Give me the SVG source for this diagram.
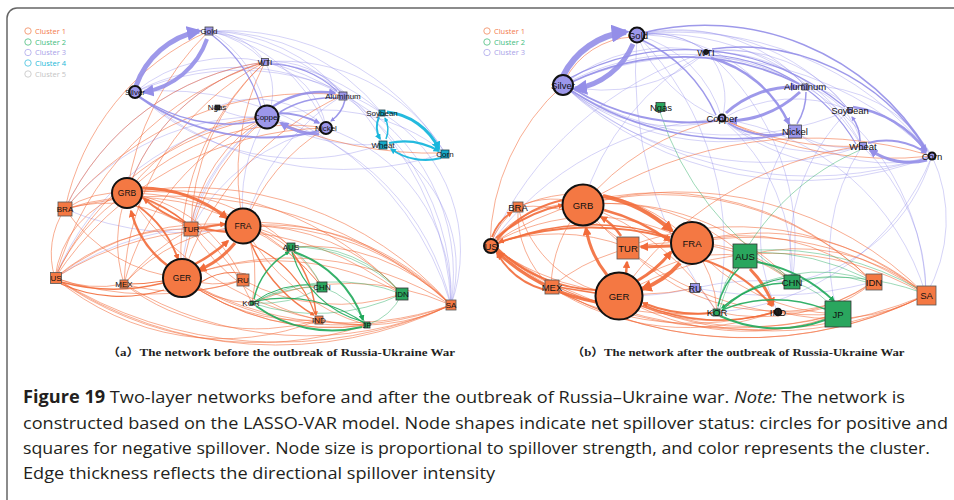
<svg xmlns="http://www.w3.org/2000/svg" width="954" height="500" viewBox="0 0 954 500">
<style>
.e path{fill:none}
.o path{stroke:#f26b3a;stroke-opacity:.62;stroke-width:.9}
.p path{stroke:#8a84e8;stroke-opacity:.45;stroke-width:.8}
.g path{stroke:#1fa85a;stroke-opacity:.55;stroke-width:.8}
.ok path{stroke:#f26b3a;stroke-opacity:.9}
.pk path{stroke:#948ee8;stroke-opacity:.9}
.gk path{stroke:#1fa85a;stroke-opacity:.9}
.tk path{stroke:#18b6dc;stroke-opacity:.95}
.lbl{font-family:"Liberation Sans",Arial,sans-serif;fill:#111;text-anchor:middle}
.a{font-size:8px}
.a2{font-size:8.5px}
.b{font-size:9.5px}
.nO{fill:#f47843;stroke:#555;stroke-width:.8}
.nG{fill:#2aa65e;stroke:#333;stroke-width:.8}
.nP{fill:#9c97ea;stroke:#444;stroke-width:.8}
.nT{fill:#17a9c8;stroke:#1b3b44;stroke-width:.8}
.cO{fill:#f47843;stroke:#111;stroke-width:2}
.cP{fill:#9c97ea;stroke:#111;stroke-width:2}
.leg{font-family:"Open Sans","Liberation Sans",sans-serif;font-size:7.5px}
.sub{font-family:"Liberation Serif","Noto Sans CJK SC",serif;font-size:11px;font-weight:bold;fill:#222}
.cap{font-family:"Open Sans","Liberation Sans",sans-serif;font-size:17px;fill:#231f20}
</style>
<defs>
<marker id="mO" viewBox="0 0 10 10" refX="8" refY="5" markerWidth="3" markerHeight="3" orient="auto" markerUnits="strokeWidth"><path d="M0,0 L10,5 L0,10 z" fill="#f26b3a"/></marker>
<marker id="mP" viewBox="0 0 10 10" refX="8" refY="5" markerWidth="3" markerHeight="3" orient="auto" markerUnits="strokeWidth"><path d="M0,0 L10,5 L0,10 z" fill="#948ee8"/></marker>
<marker id="mG" viewBox="0 0 10 10" refX="8" refY="5" markerWidth="3" markerHeight="3" orient="auto" markerUnits="strokeWidth"><path d="M0,0 L10,5 L0,10 z" fill="#1fa85a"/></marker>
<marker id="mT" viewBox="0 0 10 10" refX="8" refY="5" markerWidth="3" markerHeight="3" orient="auto" markerUnits="strokeWidth"><path d="M0,0 L10,5 L0,10 z" fill="#18b6dc"/></marker>
</defs>
<rect width="954" height="500" fill="#fff"/>
<path d="M7 500 L7 18 A10 10 0 0 1 17 8 L954 8" fill="none" stroke="#666" stroke-width="1.5"/>

<g id="legend-a" class="leg">
<circle cx="28" cy="31" r="3.2" fill="none" stroke="#f5a07c"/><text x="35" y="33.5" fill="#f37a4d">Cluster 1</text>
<circle cx="28" cy="42" r="3.2" fill="none" stroke="#6fcb98"/><text x="35" y="44.5" fill="#3ebd7e">Cluster 2</text>
<circle cx="28" cy="52.5" r="3.2" fill="none" stroke="#bdb9f0"/><text x="35" y="55" fill="#a8a2e8">Cluster 3</text>
<circle cx="28" cy="63" r="3.2" fill="none" stroke="#66cde6"/><text x="35" y="65.5" fill="#22b8d8">Cluster 4</text>
<circle cx="28" cy="74" r="3.2" fill="none" stroke="#d0d0d0"/><text x="35" y="76.5" fill="#c4c4c4">Cluster 5</text>
</g>
<g id="legend-b" class="leg">
<circle cx="487" cy="31" r="3.2" fill="none" stroke="#f5a07c"/><text x="494" y="33.5" fill="#f37a4d">Cluster 1</text>
<circle cx="487" cy="42" r="3.2" fill="none" stroke="#6fcb98"/><text x="494" y="44.5" fill="#3ebd7e">Cluster 2</text>
<circle cx="487" cy="52.5" r="3.2" fill="none" stroke="#bdb9f0"/><text x="494" y="55" fill="#a8a2e8">Cluster 3</text>
</g>

<g id="connectors">
<g id="edges-a">
<g class="e p">
<path d="M209 31 A 70 70 0 0 1 265 62"/>
<path d="M265 62 A 110 110 0 0 0 209 31"/>
<path d="M209 31 A 120 120 0 0 1 267 117"/>
<path d="M209 31 A 180 180 0 0 1 343 95"/>
<path d="M209 31 A 160 160 0 0 1 326 128"/>
<path d="M209 31 A 220 220 0 0 1 382 113"/>
<path d="M209 31 A 260 260 0 0 1 445 153"/>
<path d="M209 31 A 290 290 0 0 1 451 305"/>
<path d="M135 92 A 150 150 0 0 1 265 62"/>
<path d="M135 92 A 220 220 0 0 1 343 95"/>
<path d="M135 92 A 260 260 0 0 1 382 113"/>
<path d="M135 92 A 300 300 0 0 1 451 305"/>
<path d="M135 92 A 320 320 0 0 0 445 153"/>
<path d="M135 92 A 240 240 0 0 0 383 144"/>
<path d="M265 62 A 90 90 0 0 1 343 95"/>
<path d="M265 62 A 80 80 0 0 1 326 128"/>
<path d="M265 62 A 60 60 0 0 1 267 117"/>
<path d="M265 62 A 140 140 0 0 1 383 144"/>
<path d="M265 62 A 190 190 0 0 1 445 153"/>
<path d="M265 62 A 240 240 0 0 1 451 305"/>
<path d="M265 62 A 200 200 0 0 1 382 113"/>
<path d="M343 95 A 200 200 0 0 1 451 305"/>
<path d="M326 128 A 180 180 0 0 1 451 305"/>
<path d="M267 117 A 250 250 0 0 1 451 305"/>
<path d="M382 113 A 160 160 0 0 1 451 305"/>
<path d="M383 144 A 140 140 0 0 1 451 305"/>
<path d="M267 117 A 200 200 0 0 1 445 153"/>
<path d="M267 117 A 190 190 0 0 0 383 144"/>
<path d="M267 117 A 160 160 0 0 0 244 226"/>
<path d="M267 117 A 200 200 0 0 0 191 229"/>
<path d="M267 117 A 200 200 0 0 0 182 278"/>
<path d="M265 62 A 200 200 0 0 0 127 193"/>
<path d="M265 62 A 260 260 0 0 0 65 209"/>
<path d="M65 209 A 250 250 0 0 1 267 117"/>
<path d="M65 209 A 300 300 0 0 0 244 226"/>
<path d="M55 278 A 260 260 0 0 1 267 117"/>
<path d="M55 278 A 300 300 0 0 1 244 226"/>
<path d="M326 128 A 200 200 0 0 0 191 229"/>
<path d="M343 95 A 230 230 0 0 0 244 226"/>
<path d="M216 107 A 100 100 0 0 1 326 128"/>
<path d="M216 107 A 80 80 0 0 0 267 117"/>
</g>
<g class="e o">
<path d="M55 278 A 320 320 0 0 1 265 62"/>
<path d="M65 209 A 260 260 0 0 1 265 62"/>
<path d="M127 193 A 200 200 0 0 1 265 62"/>
<path d="M127 193 A 180 180 0 0 1 267 117"/>
<path d="M124 284 A 260 260 0 0 1 265 62"/>
<path d="M55 278 A 280 280 0 0 1 267 117"/>
<path d="M65 209 A 320 320 0 0 1 343 95"/>
<path d="M182 278 A 260 260 0 0 1 265 62"/>
<path d="M244 226 A 240 240 0 0 1 265 62"/>
<path d="M191 229 A 150 150 0 0 1 267 117"/>
<path d="M55 278 A 330 330 0 0 1 326 128"/>
<path d="M127 193 A 230 230 0 0 1 326 128"/>
<path d="M267 117 A 400 400 0 0 0 445 153"/>
<path d="M127 193 A 280 280 0 0 1 209 31"/>
<path d="M65 209 A 250 250 0 0 1 209 31"/>
<path d="M182 278 A 240 240 0 0 1 267 117"/>
<path d="M244 226 A 200 200 0 0 1 326 128"/>
<path d="M124 284 A 250 250 0 0 1 267 117"/>
<path d="M182 278 A 300 300 0 0 1 343 95"/>
<path d="M191 229 A 230 230 0 0 1 265 62"/>
<path d="M127 193 A 100 100 0 0 0 55 278"/>
<path d="M65 209 A 160 160 0 0 0 182 278"/>
<path d="M65 209 A 220 220 0 0 1 244 226"/>
<path d="M65 209 A 150 150 0 0 1 191 229"/>
<path d="M55 278 A 200 200 0 0 1 191 229"/>
<path d="M55 278 A 250 250 0 0 1 244 226"/>
<path d="M55 278 A 300 300 0 0 0 243 280"/>
<path d="M55 278 A 260 260 0 0 0 319 320"/>
<path d="M55 278 A 400 400 0 0 0 451 305"/>
<path d="M124 284 A 140 140 0 0 1 127 193"/>
<path d="M124 284 A 180 180 0 0 1 244 226"/>
<path d="M124 284 A 200 200 0 0 0 243 280"/>
<path d="M124 284 A 220 220 0 0 0 319 320"/>
<path d="M124 284 A 350 350 0 0 0 451 305"/>
<path d="M127 193 A 350 350 0 0 1 451 305"/>
<path d="M244 226 A 250 250 0 0 1 451 305"/>
<path d="M182 278 A 300 300 0 0 1 451 305"/>
<path d="M182 278 A 320 320 0 0 0 451 305"/>
<path d="M191 229 A 280 280 0 0 1 451 305"/>
<path d="M65 209 A 420 420 0 0 1 451 305"/>
<path d="M127 193 A 320 320 0 0 1 402 294"/>
<path d="M244 226 A 200 200 0 0 1 402 294"/>
<path d="M182 278 A 260 260 0 0 1 402 294"/>
<path d="M451 305 A 250 250 0 0 0 252 303"/>
<path d="M451 305 A 420 420 0 0 1 55 278"/>
<path d="M451 305 A 300 300 0 0 1 182 278"/>
<path d="M451 305 A 280 280 0 0 0 244 226"/>
<path d="M367 325 A 250 250 0 0 1 182 278"/>
<path d="M367 325 A 350 350 0 0 1 55 278"/>
<path d="M319 320 A 200 200 0 0 1 182 278"/>
<path d="M252 303 A 120 120 0 0 1 182 278"/>
<path d="M243 280 A 100 100 0 0 1 182 278"/>
<path d="M243 280 A 150 150 0 0 0 127 193"/>
<path d="M252 303 A 200 200 0 0 0 127 193"/>
<path d="M291 247 A 200 200 0 0 0 127 193"/>
<path d="M322 287 A 250 250 0 0 0 127 193"/>
<path d="M322 287 A 120 120 0 0 0 244 226"/>
<path d="M291 247 A 80 80 0 0 0 244 226"/>
<path d="M244 226 A 120 120 0 0 1 252 303"/>
<path d="M244 226 A 200 200 0 0 0 367 325"/>
<path d="M127 193 A 300 300 0 0 0 367 325"/>
<path d="M182 278 A 250 250 0 0 0 367 325"/>
<path d="M244 226 A 200 200 0 0 1 322 287"/>
<path d="M191 229 A 200 200 0 0 0 319 320"/>
<path d="M402 294 A 300 300 0 0 0 55 278"/>
<path d="M451 305 A 200 200 0 0 0 291 247"/>
<path d="M451 305 A 200 200 0 0 1 319 320"/>
<path d="M402 294 A 200 200 0 0 1 243 280"/>
<path d="M55 278 A 120 120 0 0 0 124 284"/>
<path d="M65 209 A 80 80 0 0 0 55 278"/>
<path d="M55 278 A 200 200 0 0 1 127 193"/>
<path d="M65 209 A 100 100 0 0 1 127 193"/>
<path d="M124 284 A 200 200 0 0 1 191 229"/>
</g>
<g class="e g">
<path d="M252 303 A 150 150 0 0 1 322 287"/>
<path d="M252 303 A 180 180 0 0 1 402 294"/>
<path d="M291 247 A 130 130 0 0 1 402 294"/>
<path d="M402 294 A 60 60 0 0 1 367 325"/>
<path d="M322 287 A 80 80 0 0 1 367 325"/>
<path d="M402 294 A 200 200 0 0 1 252 303"/>
<path d="M291 247 A 120 120 0 0 1 322 287"/>
<path d="M322 287 A 120 120 0 0 1 252 303"/>
<path d="M402 294 A 150 150 0 0 0 291 247"/>
</g>
<g class="e pk">
<path d="M136 86 A 85 85 0 0 1 199 31" stroke-width="5" marker-end="url(#mP)"/>
<path d="M207 39 A 80 80 0 0 1 144 92" stroke-width="4" marker-end="url(#mP)"/>
<path d="M139 97 A 220 220 0 0 0 319 131" stroke-width="2"/>
<path d="M140 97 A 160 160 0 0 0 255 122" stroke-width="1.5"/>
<path d="M272 107 A 90 90 0 0 1 335 93" stroke-width="2.5" marker-end="url(#mP)"/>
<path d="M319 134 A 70 70 0 0 1 281 123" stroke-width="3" marker-end="url(#mP)"/>
<path d="M279 113 A 90 90 0 0 1 319 123" stroke-width="2" marker-end="url(#mP)"/>
<path d="M345 100 A 35 35 0 0 1 331 121" stroke-width="1.5" marker-end="url(#mP)"/>
<path d="M337 98 A 100 100 0 0 0 280 112" stroke-width="1.5"/>
<path d="M269 64 A 100 100 0 0 1 337 91" stroke-width="1.2"/>
<path d="M212 35 A 140 140 0 0 1 261 107" stroke-width="1.2"/>
</g>
<g class="e tk">
<path d="M387 112 A 65 65 0 0 1 439 149" stroke-width="3" marker-end="url(#mT)"/>
<path d="M389 143 A 70 70 0 0 1 439 151" stroke-width="2.2" marker-end="url(#mT)"/>
<path d="M441 158 A 60 60 0 0 1 391 149" stroke-width="2" marker-end="url(#mT)"/>
<path d="M379 117 A 25 25 0 0 0 380 139" stroke-width="2" marker-end="url(#mT)"/>
<path d="M386 139 A 25 25 0 0 0 385 118" stroke-width="1.5" marker-end="url(#mT)"/>
</g>
<g class="e ok">
<path d="M141 188 A 140 140 0 0 1 227 218" stroke-width="3" marker-end="url(#mO)"/>
<path d="M235 243 A 90 90 0 0 1 199 270" stroke-width="3" marker-end="url(#mO)"/>
<path d="M168 266 A 100 100 0 0 1 131 211" stroke-width="2.5" marker-end="url(#mO)"/>
<path d="M138 206 A 110 110 0 0 1 178 259" stroke-width="2" marker-end="url(#mO)"/>
<path d="M195 264 A 150 150 0 0 0 228 241" stroke-width="2.5" marker-end="url(#mO)"/>
<path d="M198 229 A 200 200 0 0 1 225 224" stroke-width="2" marker-end="url(#mO)"/>
<path d="M141 197 A 150 150 0 0 1 185 222" stroke-width="1.5"/>
<path d="M227 232 A 150 150 0 0 1 144 199" stroke-width="2" marker-end="url(#mO)"/>
<path d="M251 243 A 150 150 0 0 0 314 315" stroke-width="1.5" marker-end="url(#mO)"/>
<path d="M292 252 A 120 120 0 0 1 316 315" stroke-width="1.5" marker-end="url(#mO)"/>
<path d="M61 282 A 200 200 0 0 0 163 283" stroke-width="1.5"/>
<path d="M129 284 A 200 200 0 0 0 163 281" stroke-width="1.2"/>
<path d="M164 290 A 150 150 0 0 1 61 284" stroke-width="1.2"/>
<path d="M246 274 A 60 60 0 0 0 201 282" stroke-width="1.2"/>
<path d="M252 245 A 120 120 0 0 1 315 314" stroke-width="1.2"/>
</g>
<g class="e gk">
<path d="M256 306 A 130 130 0 0 0 362 327" stroke-width="2"/>
<path d="M294 252 A 110 110 0 0 1 363 320" stroke-width="2" marker-end="url(#mG)"/>
<path d="M254 299 A 70 70 0 0 1 289 252" stroke-width="1.5" marker-end="url(#mG)"/>
<path d="M364 322 A 100 100 0 0 1 292 252" stroke-width="1.2"/>
<path d="M367 325 A 140 140 0 0 0 256 301" stroke-width="1.2"/>
<path d="M252 303 A 100 100 0 0 1 318 285" stroke-width="1"/>
</g>
</g>

<g id="edges-b">
<g class="e p">
<path d="M637 35 A 90 90 0 0 1 707 52"/>
<path d="M637 35 A 120 120 0 0 1 722 119"/>
<path d="M637 35 A 170 170 0 0 1 805 86"/>
<path d="M637 35 A 170 170 0 0 1 794 131"/>
<path d="M637 35 A 220 220 0 0 1 849 110"/>
<path d="M637 35 A 240 240 0 0 1 862 146"/>
<path d="M637 35 A 150 150 0 0 0 722 119"/>
<path d="M563 85 A 170 170 0 0 1 707 52"/>
<path d="M563 85 A 170 170 0 0 0 722 119"/>
<path d="M563 85 A 250 250 0 0 1 805 86"/>
<path d="M563 85 A 250 250 0 0 0 794 131"/>
<path d="M563 85 A 300 300 0 0 0 849 110"/>
<path d="M563 85 A 300 300 0 0 0 862 146"/>
<path d="M563 85 A 350 350 0 0 0 932 156"/>
<path d="M932 156 A 380 380 0 0 1 563 85"/>
<path d="M707 52 A 160 160 0 0 1 563 85"/>
<path d="M707 52 A 70 70 0 0 1 722 119"/>
<path d="M707 52 A 100 100 0 0 1 805 86"/>
<path d="M707 52 A 150 150 0 0 1 849 110"/>
<path d="M707 52 A 170 170 0 0 1 862 146"/>
<path d="M722 119 A 140 140 0 0 1 849 110"/>
<path d="M722 119 A 160 160 0 0 0 862 146"/>
<path d="M722 119 A 220 220 0 0 0 932 156"/>
<path d="M805 86 A 60 60 0 0 1 849 110"/>
<path d="M805 86 A 80 80 0 0 1 862 146"/>
<path d="M805 86 A 140 140 0 0 1 932 156"/>
<path d="M794 131 A 90 90 0 0 0 862 146"/>
<path d="M794 131 A 150 150 0 0 0 932 156"/>
<path d="M707 52 A 90 90 0 0 0 637 35"/>
<path d="M563 85 A 330 330 0 0 1 932 156"/>
<path d="M637 35 A 320 320 0 0 1 932 156"/>
<path d="M862 146 A 200 200 0 0 1 926 295"/>
<path d="M932 156 A 150 150 0 0 1 926 295"/>
<path d="M722 119 A 250 250 0 0 1 926 295"/>
<path d="M805 86 A 250 250 0 0 1 926 295"/>
<path d="M849 110 A 200 200 0 0 0 792 282"/>
<path d="M932 156 A 180 180 0 0 1 792 282"/>
<path d="M932 156 A 250 250 0 0 1 717 312"/>
<path d="M862 146 A 200 200 0 0 0 838 314"/>
<path d="M722 119 A 200 200 0 0 1 792 282"/>
<path d="M794 131 A 180 180 0 0 0 777 311"/>
<path d="M637 35 A 300 300 0 0 1 717 312"/>
<path d="M707 52 A 250 250 0 0 1 792 282"/>
<path d="M490 245 A 300 300 0 0 1 722 119"/>
<path d="M490 245 A 350 350 0 0 1 707 52"/>
<path d="M695 288 A 300 300 0 0 1 792 282"/>
<path d="M695 288 A 400 400 0 0 0 873 282"/>
<path d="M619 296 A 300 300 0 0 0 695 288"/>
<path d="M583 205 A 250 250 0 0 1 707 52"/>
<path d="M637 35 A 400 400 0 0 0 717 312"/>
</g>
<g class="e o">
<path d="M565 80 A 80 80 0 0 1 632 37"/>
<path d="M563 85 A 220 220 0 0 0 490 245"/>
<path d="M722 119 A 250 250 0 0 0 583 205"/>
<path d="M722 119 A 300 300 0 0 0 862 146"/>
<path d="M722 119 A 380 380 0 0 0 932 156"/>
<path d="M583 205 A 420 420 0 0 1 932 156"/>
<path d="M619 296 A 350 350 0 0 1 862 146"/>
<path d="M490 245 A 90 90 0 0 1 518 207"/>
<path d="M518 207 A 80 80 0 0 1 583 205"/>
<path d="M518 207 A 150 150 0 0 1 691 243"/>
<path d="M518 207 A 130 130 0 0 1 627 247"/>
<path d="M518 207 A 120 120 0 0 0 619 296"/>
<path d="M518 207 A 100 100 0 0 0 551 287"/>
<path d="M490 245 A 200 200 0 0 1 691 243"/>
<path d="M490 245 A 200 200 0 0 1 627 247"/>
<path d="M490 245 A 250 250 0 0 0 695 288"/>
<path d="M490 245 A 300 300 0 0 0 777 311"/>
<path d="M490 245 A 400 400 0 0 0 926 295"/>
<path d="M490 245 A 300 300 0 0 0 717 312"/>
<path d="M551 287 A 200 200 0 0 1 691 243"/>
<path d="M551 287 A 130 130 0 0 1 583 205"/>
<path d="M551 287 A 250 250 0 0 0 777 311"/>
<path d="M551 287 A 400 400 0 0 0 926 295"/>
<path d="M583 205 A 350 350 0 0 1 926 295"/>
<path d="M583 205 A 300 300 0 0 1 873 282"/>
<path d="M691 243 A 250 250 0 0 1 926 295"/>
<path d="M691 243 A 200 200 0 0 1 873 282"/>
<path d="M619 296 A 300 300 0 0 1 926 295"/>
<path d="M619 296 A 350 350 0 0 0 926 295"/>
<path d="M627 247 A 300 300 0 0 1 926 295"/>
<path d="M926 295 A 450 450 0 0 1 490 245"/>
<path d="M926 295 A 300 300 0 0 0 691 243"/>
<path d="M838 314 A 300 300 0 0 1 619 296"/>
<path d="M838 314 A 400 400 0 0 1 490 245"/>
<path d="M777 311 A 200 200 0 0 1 619 296"/>
<path d="M717 312 A 150 150 0 0 1 619 296"/>
<path d="M717 312 A 250 250 0 0 0 583 205"/>
<path d="M744 256 A 200 200 0 0 0 583 205"/>
<path d="M744 256 A 150 150 0 0 0 619 296"/>
<path d="M792 282 A 250 250 0 0 0 583 205"/>
<path d="M792 282 A 150 150 0 0 0 691 243"/>
<path d="M691 243 A 120 120 0 0 1 717 312"/>
<path d="M691 243 A 200 200 0 0 0 838 314"/>
<path d="M583 205 A 300 300 0 0 0 838 314"/>
<path d="M619 296 A 250 250 0 0 0 838 314"/>
<path d="M691 243 A 200 200 0 0 1 792 282"/>
<path d="M627 247 A 200 200 0 0 0 777 311"/>
<path d="M873 282 A 300 300 0 0 0 490 245"/>
<path d="M926 295 A 200 200 0 0 0 744 256"/>
<path d="M926 295 A 200 200 0 0 1 777 311"/>
<path d="M873 282 A 200 200 0 0 1 717 312"/>
<path d="M583 205 A 100 100 0 0 0 490 245"/>
<path d="M873 282 A 120 120 0 0 1 777 311"/>
<path d="M777 311 A 150 150 0 0 0 873 282"/>
</g>
<g class="e g">
<path d="M756 250 A 300 300 0 0 1 920 290"/>
<path d="M756 252 A 250 250 0 0 1 866 278"/>
<path d="M800 280 A 250 250 0 0 1 920 292"/>
<path d="M800 282 A 100 100 0 0 1 866 282"/>
<path d="M660 112 A 300 300 0 0 0 788 276"/>
<path d="M860 150 A 250 250 0 0 0 720 308"/>
<path d="M744 256 A 100 100 0 0 0 717 312"/>
<path d="M792 282 A 80 80 0 0 1 838 314"/>
<path d="M744 256 A 120 120 0 0 1 792 282"/>
<path d="M717 312 A 150 150 0 0 1 873 282"/>
</g>
<g class="e pk">
<path d="M563 76 A 80 80 0 0 1 626 32" stroke-width="6" marker-end="url(#mP)"/>
<path d="M633 44 A 75 75 0 0 1 575 89" stroke-width="5" marker-end="url(#mP)"/>
<path d="M572 88 A 220 220 0 0 0 715 121" stroke-width="2"/>
<path d="M572 82 A 260 260 0 0 1 799 84" stroke-width="1.8"/>
<path d="M572 91 A 300 300 0 0 0 788 134" stroke-width="1.5"/>
<path d="M726 113 A 100 100 0 0 1 798 87" stroke-width="3" marker-end="url(#mP)"/>
<path d="M800 92 A 110 110 0 0 1 730 121" stroke-width="3" marker-end="url(#mP)"/>
<path d="M711 58 A 120 120 0 0 1 789 124" stroke-width="2.5" marker-end="url(#mP)"/>
<path d="M728 123 A 80 80 0 0 0 787 133" stroke-width="2"/>
<path d="M806 92 A 60 60 0 0 1 797 124" stroke-width="1.5"/>
<path d="M853 107 A 110 110 0 0 1 926 151" stroke-width="2.5" marker-end="url(#mP)"/>
<path d="M927 160 A 70 70 0 0 1 870 150" stroke-width="3" marker-end="url(#mP)"/>
<path d="M868 143 A 70 70 0 0 1 926 153" stroke-width="2" marker-end="url(#mP)"/>
<path d="M860 141 A 40 40 0 0 0 852 117" stroke-width="1.5" marker-end="url(#mP)"/>
<path d="M642 33 A 260 260 0 0 1 927 150" stroke-width="1.5"/>
<path d="M712 49 A 220 220 0 0 1 927 151" stroke-width="1.5"/>
<path d="M566 80 A 250 250 0 0 1 845 107" stroke-width="1.2"/>
<path d="M642 40 A 150 150 0 0 1 716 115" stroke-width="1.5"/>
<path d="M711 55 A 180 180 0 0 1 856 144" stroke-width="1.2"/>
</g>
<g class="e ok">
<path d="M603 196 A 150 150 0 0 1 672 231" stroke-width="4" marker-end="url(#mO)"/>
<path d="M604 210 A 200 200 0 0 1 670 241" stroke-width="2.5" marker-end="url(#mO)"/>
<path d="M680 263 A 90 90 0 0 1 642 289" stroke-width="4" marker-end="url(#mO)"/>
<path d="M637 281 A 120 120 0 0 0 671 252" stroke-width="3" marker-end="url(#mO)"/>
<path d="M607 275 A 100 100 0 0 1 586 228" stroke-width="3" marker-end="url(#mO)"/>
<path d="M621 236 A 60 60 0 0 0 601 217" stroke-width="2.5" marker-end="url(#mO)"/>
<path d="M626 274 L 627 262" stroke-width="2.5" marker-end="url(#mO)"/>
<path d="M670 246 L 641 247" stroke-width="3" marker-end="url(#mO)"/>
<path d="M496 238 A 150 150 0 0 1 563 205" stroke-width="2" marker-end="url(#mO)"/>
<path d="M492 237 A 50 50 0 0 1 512 212" stroke-width="2" marker-end="url(#mO)"/>
<path d="M596 302 A 200 200 0 0 1 497 252" stroke-width="3" marker-end="url(#mO)"/>
<path d="M545 290 A 80 80 0 0 1 497 253" stroke-width="2" marker-end="url(#mO)"/>
<path d="M670 238 A 300 300 0 0 0 499 242" stroke-width="2" marker-end="url(#mO)"/>
<path d="M704 260 A 150 150 0 0 1 772 306" stroke-width="2" marker-end="url(#mO)"/>
<path d="M750 269 A 100 100 0 0 1 773 305" stroke-width="3" marker-end="url(#mO)"/>
<path d="M712 313 A 150 150 0 0 1 643 303" stroke-width="2" marker-end="url(#mO)"/>
<path d="M772 313 A 200 200 0 0 1 643 305" stroke-width="1.5"/>
<path d="M497 248 A 150 150 0 0 0 596 290" stroke-width="2"/>
<path d="M563 200 A 120 120 0 0 0 497 240" stroke-width="2"/>
<path d="M558 287 L 595 293" stroke-width="1.5"/>
<path d="M497 244 A 250 250 0 0 1 670 237" stroke-width="1.5"/>
</g>
<g class="e gk">
<path d="M757 262 A 150 150 0 0 1 834 301" stroke-width="2" marker-end="url(#mG)"/>
<path d="M720 316 A 140 140 0 0 0 825 320" stroke-width="2"/>
<path d="M825 309 A 140 140 0 0 0 722 310" stroke-width="1.5"/>
<path d="M784 283 A 100 100 0 0 0 722 308" stroke-width="1.5" marker-end="url(#mG)"/>
<path d="M739 268 A 80 80 0 0 0 718 306" stroke-width="1.5"/>
<path d="M722 310 A 120 120 0 0 1 785 278" stroke-width="1.2"/>
</g>
</g>
</g>

<g id="nodes-a">
<g id="a-Gold"><rect x="205" y="27" width="8" height="8" class="nP"/><text x="209" y="34" class="lbl a">Gold</text></g>
<g id="a-Silver"><circle cx="135" cy="92" r="6" class="cP"/><text x="135" y="95" class="lbl a">Silver</text></g>
<g id="a-WTI"><rect x="261.5" y="58.5" width="7" height="7" class="nP"/><text x="265" y="65" class="lbl a">WTI</text></g>
<g id="a-Ngas"><rect x="215" y="105" width="5" height="5" fill="#333" stroke="#111" stroke-width=".6"/><text x="217" y="110" class="lbl a">Ngas</text></g>
<g id="a-Copper"><circle cx="267" cy="117" r="11.5" class="cP"/><text x="267" y="120" class="lbl a">Copper</text></g>
<g id="a-Aluminum"><rect x="339" y="92" width="8" height="8" class="nP"/><text x="343" y="98.5" class="lbl a">Aluminum</text></g>
<g id="a-Nickel"><circle cx="326" cy="128" r="6" class="cP"/><text x="326" y="131" class="lbl a">Nickel</text></g>
<g id="a-Soybean"><rect x="379" y="110" width="6" height="6" class="nT"/><text x="382" y="116" class="lbl a">Soybean</text></g>
<g id="a-Wheat"><rect x="379" y="141" width="8" height="8" class="nT"/><text x="383" y="147.5" class="lbl a">Wheat</text></g>
<g id="a-Corn"><rect x="441" y="150" width="8" height="8" class="nT"/><text x="445" y="156.5" class="lbl a">Corn</text></g>
<g id="a-GRB"><circle cx="127" cy="193" r="15" class="cO"/><text x="127" y="196" class="lbl a2">GRB</text></g>
<g id="a-BRA"><rect x="58" y="202" width="14" height="14" class="nO"/><text x="65" y="212" class="lbl a">BRA</text></g>
<g id="a-TUR"><rect x="184" y="222" width="14" height="14" class="nO"/><text x="191" y="232" class="lbl a">TUR</text></g>
<g id="a-FRA"><circle cx="243" cy="226" r="17.5" class="cO"/><text x="243" y="229" class="lbl a2">FRA</text></g>
<g id="a-GER"><circle cx="182" cy="278" r="19" class="cO"/><text x="182" y="281" class="lbl a2">GER</text></g>
<g id="a-US"><rect x="50.5" y="272.5" width="11" height="11" class="nO"/><text x="56" y="281" class="lbl a">US</text></g>
<g id="a-MEX"><rect x="120" y="280" width="8" height="8" class="nO"/><text x="124" y="287" class="lbl a">MEX</text></g>
<g id="a-RU"><rect x="237" y="274" width="12" height="12" class="nO"/><text x="243" y="283" class="lbl a">RU</text></g>
<g id="a-AUS"><rect x="287" y="243" width="8" height="8" class="nG"/><text x="291" y="249.5" class="lbl a">AUS</text></g>
<g id="a-CHN"><rect x="317" y="282" width="10" height="10" class="nG"/><text x="322" y="290" class="lbl a">CHN</text></g>
<g id="a-IDN"><rect x="396" y="288" width="12" height="12" class="nG"/><text x="402" y="297" class="lbl a">IDN</text></g>
<g id="a-SA"><rect x="446" y="300" width="10" height="10" class="nO"/><text x="451" y="308" class="lbl a">SA</text></g>
<g id="a-KOR"><rect x="250" y="301" width="4" height="4" class="nG"/><text x="251" y="306" class="lbl a">KOR</text></g>
<g id="a-IND"><rect x="315" y="316" width="8" height="8" class="nO"/><text x="319" y="323" class="lbl a">IND</text></g>
<g id="a-JP"><rect x="364" y="322" width="6" height="6" class="nG"/><text x="367" y="328" class="lbl a">JP</text></g>
</g>

<g id="nodes-b">
<g id="b-Gold"><circle cx="637" cy="35" r="7.5" class="cP"/><text x="638" y="38.5" class="lbl b">Gold</text></g>
<g id="b-Silver"><circle cx="563" cy="85" r="10" class="cP"/><text x="563" y="88.5" class="lbl b">Silver</text></g>
<g id="b-WTI"><circle cx="706" cy="52" r="2.5" fill="#222" stroke="#111"/><text x="706" y="55.5" class="lbl b">WTI</text></g>
<g id="b-Ngas"><rect x="656" y="102.5" width="9" height="9" class="nG"/><text x="661" y="110.5" class="lbl b">Ngas</text></g>
<g id="b-Copper"><circle cx="722" cy="118" r="3.5" class="cP" stroke-width="2.5"/><text x="722" y="121.5" class="lbl b">Copper</text></g>
<g id="b-Aluminum"><rect x="802" y="84" width="6" height="6" class="nP"/><text x="805" y="90" class="lbl b">Aluminum</text></g>
<g id="b-Nickel"><rect x="788.5" y="125" width="13" height="13" class="nP"/><text x="795" y="134.5" class="lbl b">Nickel</text></g>
<g id="b-Soybean"><rect x="847.5" y="107.5" width="5" height="5" class="nP"/><text x="850" y="113.5" class="lbl b">Soybean</text></g>
<g id="b-Wheat"><rect x="859.5" y="142.5" width="7" height="7" class="nP"/><text x="863" y="149.5" class="lbl b">Wheat</text></g>
<g id="b-Corn"><circle cx="932" cy="156" r="3.5" class="cP" stroke-width="2.5"/><text x="932" y="159.5" class="lbl b">Corn</text></g>
<g id="b-GRB"><circle cx="583" cy="205" r="20.5" class="cO"/><text x="583" y="208.5" class="lbl b">GRB</text></g>
<g id="b-BRA"><rect x="513" y="202" width="10" height="10" class="nO"/><text x="518" y="210.5" class="lbl b">BRA</text></g>
<g id="b-US"><circle cx="491" cy="246" r="7" class="cO"/><text x="491" y="249.5" class="lbl b">US</text></g>
<g id="b-TUR"><rect x="617" y="237" width="22" height="22" class="nO"/><text x="628" y="251.5" class="lbl b">TUR</text></g>
<g id="b-FRA"><circle cx="692" cy="243" r="21" class="cO"/><text x="692" y="246.5" class="lbl b">FRA</text></g>
<g id="b-GER"><circle cx="619" cy="296" r="23.5" class="cO"/><text x="619" y="299.5" class="lbl b">GER</text></g>
<g id="b-MEX"><rect x="545" y="280" width="14" height="14" class="nO"/><text x="552" y="290.5" class="lbl b">MEX</text></g>
<g id="b-RU"><rect x="690.5" y="283.5" width="9" height="9" class="nP"/><text x="695" y="291.5" class="lbl b">RU</text></g>
<g id="b-AUS"><rect x="733" y="244" width="24" height="24" class="nG"/><text x="745" y="259.5" class="lbl b">AUS</text></g>
<g id="b-CHN"><rect x="784" y="275" width="16" height="14" class="nG"/><text x="792" y="285.5" class="lbl b">CHN</text></g>
<g id="b-IDN"><rect x="866" y="274" width="16" height="16" class="nO"/><text x="874" y="285.5" class="lbl b">IDN</text></g>
<g id="b-SA"><rect x="917" y="286" width="19" height="19" class="nO"/><text x="926.5" y="298.5" class="lbl b">SA</text></g>
<g id="b-KOR"><rect x="713" y="309" width="7" height="7" class="nG"/><text x="717" y="316" class="lbl b">KOR</text></g>
<g id="b-IND"><circle cx="778" cy="312" r="3.5" fill="#222" stroke="#111" stroke-width="1.5"/><text x="778" y="315.5" class="lbl b">IND</text></g>
<g id="b-JP"><rect x="825" y="301" width="26" height="26" class="nG"/><text x="838" y="317.5" class="lbl b">JP</text></g>
</g>

<text x="281" y="356" class="sub" text-anchor="middle" textLength="348" lengthAdjust="spacingAndGlyphs">（a）The network before the outbreak of Russia-Ukraine War</text>
<text x="738" y="356" class="sub" text-anchor="middle" textLength="333" lengthAdjust="spacingAndGlyphs">（b）The network after the outbreak of Russia-Ukraine War</text>

<g id="caption" class="cap">
<text x="23" y="403" textLength="882" lengthAdjust="spacingAndGlyphs"><tspan font-weight="bold">Figure 19</tspan>  Two-layer networks before and after the outbreak of Russia–Ukraine war. <tspan font-style="italic">Note:</tspan> The network is</text>
<text x="23" y="429" textLength="925" lengthAdjust="spacingAndGlyphs">constructed based on the LASSO-VAR model. Node shapes indicate net spillover status: circles for positive and</text>
<text x="23" y="454" textLength="907" lengthAdjust="spacingAndGlyphs">squares for negative spillover. Node size is proportional to spillover strength, and color represents the cluster.</text>
<text x="23" y="479" textLength="472" lengthAdjust="spacingAndGlyphs">Edge thickness reflects the directional spillover intensity</text>
</g>
</svg>
